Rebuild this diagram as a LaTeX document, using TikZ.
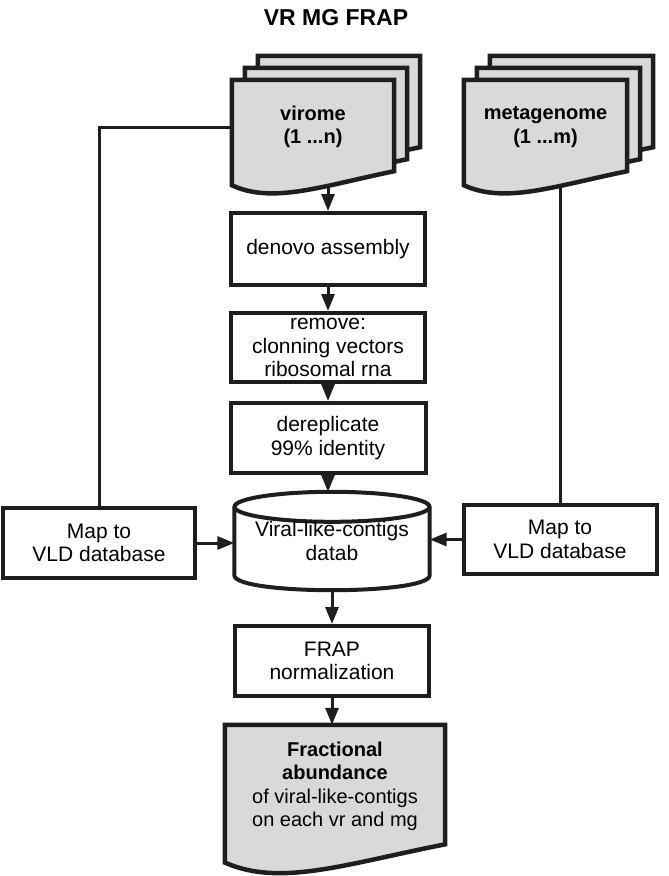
\documentclass[tikz,border=0pt]{standalone}
\usepackage{fontspec}
\setmainfont{Liberation Sans}
\usepackage{tikz}
\usetikzlibrary{arrows.meta, calc, backgrounds}
\definecolor{flowInk}{RGB}{30, 30, 30}
\definecolor{docGray}{RGB}{217, 217, 217}
\newcommand{\DocSheet}[4]{
	\def\lnode{#1}
	\def\lshx{#2}
	\def\lshy{#3}
	\def\lamp{#4}
	\filldraw[docFill] ($(\lnode.north west)+(\lshx,\lshy)$) -- ($(\lnode.north east)+(\lshx,\lshy)$) -- ($(\lnode.south east)+(\lshx,\lshy-0.15*\lamp)$) .. controls ($($(\lnode.south west)!0.55!(\lnode.south east)$)+(\lshx,\lshy+0.6*\lamp)$) and ($($(\lnode.south west)!0.25!(\lnode.south east)$)+(\lshx,\lshy+1.5*\lamp)$) .. ($(\lnode.south west)+(\lshx,\lshy+0.55*\lamp)$) -- cycle;
}

\begin{document}
\begin{tikzpicture}[x=1pt, y=-1pt, line join=miter,
		procBox/.style={draw=flowInk, line width=4pt, fill=white, inner sep=0pt, align=center, font=\fontsize{21}{23.5}\selectfont},
		cylBox/.style={inner sep=0pt, align=center, font=\fontsize{21}{24}\selectfont, minimum width=195, minimum height=98},
		docText/.style={inner sep=0pt, align=center, font=\fontsize{20}{23.5}\selectfont},
		docFill/.style={draw=flowInk, fill=docGray, line width=4.5pt},
		flowArrow/.style={draw=flowInk, line width=3pt, -{Triangle[length=17pt, width=13pt]}},
		flowLine/.style={draw=flowInk, line width=3pt}
	]

	\useasboundingbox (0,0) rectangle (669,876);

	\node[font=\fontsize{23}{26}\selectfont\bfseries] (title) at (336,18) {VR MG FRAP};

	% input documents
	\node[docText, minimum width=162, minimum height=94] (vir) at (313,127) {\textbf{virome}\\\textbf{(1 ...n)}};
	\node[docText, minimum width=163, minimum height=94] (mg) at (545.5,127) {\textbf{metagenome}\\\textbf{(1 ...m)}};

	% main column
	\node[procBox, minimum width=194, minimum height=72] (denovo) at (328,249) {denovo assembly};
	\node[procBox, minimum width=194, minimum height=69] (remove) at (328,347.5) {remove:\\clonning vectors\\ribosomal rna};
	\node[procBox, minimum width=195, minimum height=70] (derep) at (328,438) {dereplicate\\99\% identity};
	\node[cylBox] (vlc) at (332,541) {Viral-like-contigs\\datab};
	\node[procBox, minimum width=194, minimum height=70] (frap) at (332,661) {FRAP\\normalization};
	\node[docText, minimum width=220, minimum height=123] (final) at (335,786.5) {\textbf{Fractional}\\\textbf{abundance}\\of viral-like-contigs\\on each vr and mg};

	% side boxes
	\node[procBox, minimum width=192, minimum height=70] (lmap) at (99,543) {Map to\\VLD database};
	\node[procBox, minimum width=193, minimum height=69] (rmap) at (560,539.5) {Map to\\VLD database};

	\begin{pgfonlayer}{background}
		\foreach \sx/\sy in {26/-24, 13/-12, 0/0} {
			\DocSheet{vir}{\sx}{\sy}{20}
			\DocSheet{mg}{\sx}{\sy}{20}
		}
		\DocSheet{final}{0}{0}{26}
		\filldraw[draw=flowInk, fill=white, line width=4pt] ($(vlc.north west)+(0,15)$) -- ($(vlc.south west)+(0,-15)$) .. controls +(0,20) and +(0,20) .. ($(vlc.south east)+(0,-15)$) -- ($(vlc.north east)+(0,15)$);
		\filldraw[draw=flowInk, fill=white, line width=4pt] ($(vlc.north)+(0,15)$) ellipse [x radius=97.5pt, y radius=15pt];
	\end{pgfonlayer}

	\coordinate (virOut) at ($(vir.south -| denovo.north)+(0,11)$);
	\coordinate (mgOut) at ($(mg.south -| rmap.north)+(0,12)$);

	\draw[flowArrow] (virOut) -- (denovo.north);
	\draw[flowArrow] (denovo.south) -- (remove.north);
	\draw[flowArrow] (remove.south) -- (derep.north);
	\draw[flowArrow] (derep.south) -- (derep.south |- vlc.north);
	\draw[flowArrow] (vlc.south) -- (vlc.south |- frap.north);
	\draw[flowArrow] (frap.south) -- (frap.south |- final.north);

	\draw[flowLine] (vir.west) -| (lmap.north);
	\draw[flowLine] (mgOut) -- (rmap.north);
	\draw[flowArrow] (lmap.east) -- (lmap.east -| vlc.west);
	\draw[flowArrow] (rmap.west) -- (rmap.west -| vlc.east);

\end{tikzpicture}
\end{document}
